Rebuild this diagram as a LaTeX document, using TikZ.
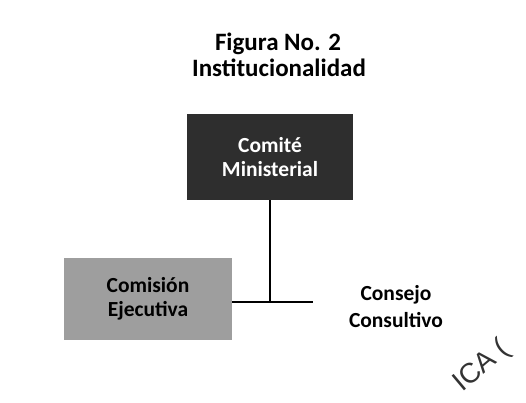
\documentclass[tikz,border=0pt]{standalone}
\usepackage{fontspec}
\setmainfont{Carlito}
\newfontfamily\sellofont{Liberation Sans}
\usetikzlibrary{positioning}
\tikzset{titulo/.style = {inner sep = 0, font = \fontsize{25}{28}\selectfont\bfseries}}
\tikzset{caja/.style = {inner sep = 0, align = center, font = \fontsize{21.5}{24}\selectfont\bfseries}}
\tikzset{rotulo/.style = {inner sep = 0, align = center, font = \fontsize{21.5}{27}\selectfont\bfseries}}
\tikzset{linea/.style = {line width = 1.6}}
\tikzset{sello/.style = {inner sep = 0, text = black!80, font = \fontsize{28}{28}\selectfont\sellofont}}

\begin{document}
\begin{tikzpicture}[x = 1pt, y = -1pt]
    \useasboundingbox (0, 0) rectangle (526, 403);
    \node [titulo] (figura) at (278, 44) {Figura No. 2};
    \node [titulo] (instit) at (279, 68) {Institucionalidad};

    \node [caja, fill = black!82, text = white, minimum width = 166, minimum height = 86] (comite) at (270, 157) {Comité\\Ministerial};
    \node [caja, fill = black!38, minimum width = 168, minimum height = 82] (comision) at (148, 299) {Comisión\\Ejecutiva};
    \node [rotulo] (consejo) at (396, 307) {Consejo\\Consultivo};

    \coordinate (punta) at (313, 302);
    \coordinate (cruce) at (comite.south |- punta);
    \draw [linea] (comite.south) -- (cruce);
    \draw [linea] (comision.east |- punta) -- (punta);

    \node [sello, rotate = 40] (sello) at (482, 366) {ICA (};
  \end{tikzpicture}
\end{document}
